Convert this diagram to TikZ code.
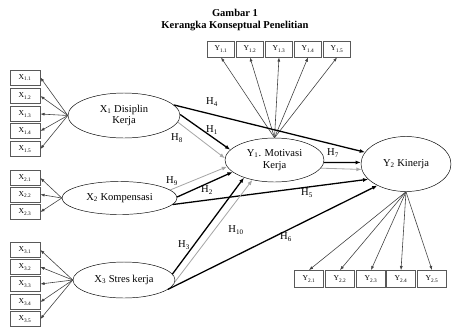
\documentclass[tikz,border=0pt]{standalone}
\usepackage{fontspec}
\setmainfont{Liberation Serif}
\usetikzlibrary{positioning, arrows.meta, shapes.geometric}

\begin{document}
\begin{tikzpicture}[x=0.03cm, y=-0.03cm,
    font=\fontsize{9}{10}\selectfont,
    lat/.style={draw, ellipse, inner sep=0pt, align=center},
    ind/.style={draw=black!65, line width=0.7pt, minimum width=0.9cm, minimum height=0.45cm, inner sep=0pt, font=\fontsize{6.5}{7}\selectfont},
    indarr/.style={-{Latex[length=3.5pt,width=2.6pt]}, draw=black!75, line width=0.5pt},
    hyp/.style={-{Latex[length=4.5pt,width=3.4pt]}, line width=1.1pt},
    hypg/.style={-{Latex[length=4.5pt,width=3.4pt]}, draw=black!35, line width=0.7pt}]
    \useasboundingbox (0,0) rectangle (452,327);

    \node (title) [align=center, font=\bfseries\fontsize{9}{9.5}\selectfont] at (235,20) {Gambar 1\\Kerangka Konseptual Penelitian};

    % latent variables
    \node (X1) [lat, minimum width=3.36cm, minimum height=1.35cm] at (124,115.5) {X\textsubscript{1} Disiplin\\Kerja};
    \node (X2) [lat, minimum width=3.45cm, minimum height=0.99cm] at (119.5,198) {X\textsubscript{2} Kompensasi};
    \node (X3) [lat, minimum width=3.06cm, minimum height=1.08cm] at (124,280) {X\textsubscript{3} Stres kerja};
    \node (Y1) [lat, minimum width=2.97cm, minimum height=1.32cm] at (274.5,160) {Y\textsubscript{1}. Motivasi\\Kerja};
    \node (Y2) [lat, minimum width=2.7cm, minimum height=1.65cm] at (406,164) {Y\textsubscript{2} Kinerja};

    % indicators
    \foreach \i/\y in {1/77.5,2/96,3/114,4/131,5/149} {
        \node (x1\i) [ind] at (25,\y) {X\textsubscript{1.\i}};
        \draw [indarr] (X1.west) -- (x1\i.east);
    }
    \foreach \i/\y in {1/178,2/194.5,3/212} {
        \node (x2\i) [ind] at (25,\y) {X\textsubscript{2.\i}};
        \draw [indarr] (X2.west) -- (x2\i.east);
    }
    \foreach \i/\y in {1/250,2/267,3/284,4/302,5/319} {
        \node (x3\i) [ind] at (25,\y) {X\textsubscript{3.\i}};
        \draw [indarr] (X3.west) -- (x3\i.east);
    }
    \foreach \i/\x in {1/221,2/250,3/279,4/308,5/337} {
        \node (y1\i) [ind, minimum width=0.83cm, minimum height=0.48cm] at (\x,49) {Y\textsubscript{1.\i}};
        \draw [indarr] (Y1.north) -- (y1\i.south);
    }
    \foreach \i/\x in {1/309,2/340,3/371,4/401,5/432} {
        \node (y2\i) [ind, minimum width=0.87cm, minimum height=0.51cm] at (\x,279) {Y\textsubscript{2.\i}};
        \draw [indarr] (Y2.south) -- (y2\i.north);
    }

    % hypotheses
    \draw [hyp] (X1.12) -- (Y2.164);
    \draw [hyp] (X1.1) -- (Y1.167);
    \draw [hypg] (X1.-7) -- (Y1.178);
    \draw [hypg] (X2.9) -- (Y1.188);
    \draw [hyp] (X2.1) -- (Y1.196);
    \draw [hyp] (X2.-7) -- (Y2.202);
    \draw [hyp] (X3.7) -- (Y1.210);
    \draw [hypg] (X3.-2) -- (Y1.222);
    \draw [hyp] (X3.-12) -- (Y2.217);
    \draw [hyp] (Y1.-3) -- (Y2.178);
    \draw [hypg] (Y1.-10) -- (Y2.187);

    \node (h4) at (212,102) {H\textsubscript{4}};
    \node (h1) at (212,130) {H\textsubscript{1}};
    \node (h8) at (177,138) {H\textsubscript{8}};
    \node (h9) at (172,181) {H\textsubscript{9}};
    \node (h2) at (207,190) {H\textsubscript{2}};
    \node (h5) at (307,193) {H\textsubscript{5}};
    \node (h3) at (184,245) {H\textsubscript{3}};
    \node (h10) at (236,230) {H\textsubscript{10}};
    \node (h6) at (286,237) {H\textsubscript{6}};
    \node (h7) at (333,153) {H\textsubscript{7}};
\end{tikzpicture}
\end{document}
